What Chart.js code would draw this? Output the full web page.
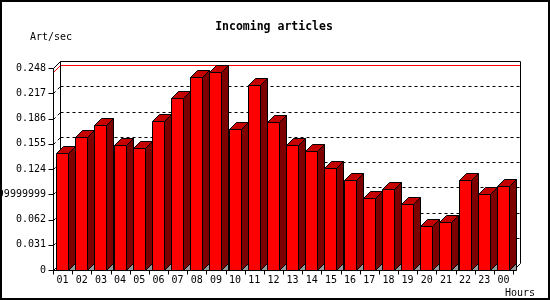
<!DOCTYPE html>
<html>
<head>
<meta charset="utf-8">
<script src="https://cdn.jsdelivr.net/npm/chart.js@4/dist/chart.umd.min.js"></script>
<style>
  html, body { margin: 0; padding: 0; background: #fff; }
  #chart { display: block; }
</style>
</head>
<body>
<canvas id="chart" width="550" height="300"></canvas>
<script>
// --- datos del gráfico ---
const hours = ['01', '02', '03', '04', '05', '06', '07', '08', '09', '10', '11', '12',
               '13', '14', '15', '16', '17', '18', '19', '20', '21', '22', '23', '00'];
const artPerSec = [0.144, 0.163, 0.178, 0.154, 0.150, 0.183, 0.211, 0.237, 0.2435, 0.1735, 0.227, 0.182,
                   0.153, 0.146, 0.125, 0.111, 0.089, 0.099, 0.081, 0.054, 0.059, 0.111, 0.093, 0.103];
const yTickValues = [0, 0.031, 0.062, 0.093, 0.124, 0.155, 0.186, 0.217, 0.248];
const yTickLabels = ['0', '0.031', '0.062', '0.09299999999999999', '0.124', '0.155', '0.186', '0.217', '0.248'];

const FONT = '"DejaVu Sans Mono", "Liberation Mono", monospace';
const D = 7; // profundidad 3D

function poly(ctx, pts, fill) {
    ctx.beginPath();
    ctx.moveTo(pts[0][0], pts[0][1]);
    for (let i = 1; i < pts.length; i++) ctx.lineTo(pts[i][0], pts[i][1]);
    ctx.closePath();
    if (fill) { ctx.fillStyle = fill; ctx.fill(); }
    ctx.stroke();
}

function line(ctx, x1, y1, x2, y2) {
    ctx.beginPath();
    ctx.moveTo(x1, y1);
    ctx.lineTo(x2, y2);
    ctx.stroke();
}

// --- paredes, rejilla y línea del máximo ---
const walls = {
    id: 'walls',
    beforeDatasetsDraw(chart) {
        const ctx = chart.ctx;
        const y = chart.scales.y;
        const area = chart.chartArea;
        const L = Math.round(area.left) + 0.5;
        const R = Math.round(area.right) + 0.5;
        ctx.save();
        ctx.lineWidth = 1;

        // rejilla punteada en la pared del fondo
        ctx.strokeStyle = '#000';
        ctx.setLineDash([3, 3]);
        yTickValues.forEach(v => {
            if (v === 0 || v === yTickValues[yTickValues.length - 1]) return;
            const py = Math.round(y.getPixelForValue(v)) + 0.5;
            line(ctx, L + D, py - D, R + D, py - D);
            line(ctx, L, py, L + D, py - D);
        });
        ctx.setLineDash([]);

        // línea roja del máximo
        const maxY = Math.round(y.getPixelForValue(Math.max(...artPerSec))) + 0.5;
        ctx.strokeStyle = '#ff0000';
        line(ctx, L + D, maxY - D, R + D, maxY - D);
        line(ctx, L, maxY, L + D, maxY - D);

        // pared del fondo
        const top = Math.round(y.getPixelForValue(yTickValues[yTickValues.length - 1])) + 0.5;
        const bot = Math.round(y.getPixelForValue(0)) + 0.5;
        ctx.strokeStyle = '#000';
        line(ctx, L + D, top - D, L + D, bot - D);
        line(ctx, L + D, top - D, R + D, top - D);
        line(ctx, R + D, top - D, R + D, bot - D);
        line(ctx, L, top, L + D, top - D);
        line(ctx, L, bot, L + D, bot - D);
        ctx.restore();
    },
    afterDatasetsDraw(chart) {
        const ctx = chart.ctx;
        const y = chart.scales.y;
        const x = chart.scales.x;
        const area = chart.chartArea;
        const L = Math.round(area.left) + 0.5;
        const R = Math.round(area.right) + 0.5;
        const top = Math.round(y.getPixelForValue(yTickValues[yTickValues.length - 1])) + 0.5;
        const bot = Math.round(y.getPixelForValue(0)) + 0.5;
        ctx.save();
        ctx.strokeStyle = '#000';
        ctx.lineWidth = 1;
        // ejes frontales
        line(ctx, L, top, L, bot);
        line(ctx, L, bot, R, bot);
        line(ctx, R, bot, R + D, bot - D);
        // marcas del eje y
        yTickValues.forEach(v => {
            const py = Math.round(y.getPixelForValue(v)) + 0.5;
            line(ctx, L - 5, py, L, py);
        });
        // marcas del eje x entre categorías
        for (let i = 0; i <= hours.length; i++) {
            const px = Math.round(area.left + i * (area.right - area.left) / hours.length) + 0.5;
            line(ctx, px, bot, px, bot + 4);
        }
        ctx.restore();
    },
    afterDraw(chart) {
        const ctx = chart.ctx;
        ctx.save();
        ctx.fillStyle = '#000';
        ctx.textBaseline = 'middle';
        ctx.font = 'bold 11.5px ' + FONT;
        ctx.textAlign = 'center';
        ctx.fillText('Incoming articles', 274, 27);
        ctx.font = '10px ' + FONT;
        ctx.textAlign = 'left';
        ctx.fillText('Art/sec', 30, 37);
        ctx.fillText('Hours', 505, 293);
        // marco
        ctx.strokeStyle = '#000';
        ctx.lineWidth = 2;
        ctx.strokeRect(1, 1, 548, 298);
        ctx.restore();
    }
};

// --- barras 3D a partir de los elementos de Chart.js ---
const bar3d = {
    id: 'bar3d',
    afterDatasetsDraw(chart) {
        const ctx = chart.ctx;
        const meta = chart.getDatasetMeta(0);
        ctx.save();
        ctx.strokeStyle = '#000';
        ctx.lineWidth = 1;
        meta.data.forEach(bar => {
            const p = bar.getProps(['x', 'y', 'base', 'width'], true);
            const l = Math.round(p.x - p.width / 2) + 0.5;
            const r = l + 12;
            const t = Math.round(p.y) + 0.5;
            const b = Math.round(p.base) + 0.5;
            poly(ctx, [[r, b], [r + D, b - D], [r + D, b]], '#999999');
            poly(ctx, [[r, t], [r + D, t - D], [r + D, b - D], [r, b]], '#7c0000');
            poly(ctx, [[l, t], [l + D, t - D], [r + D, t - D], [r, t]], '#c40000');
            poly(ctx, [[l, t], [r, t], [r, b], [l, b]], '#ff0000');
        });
        ctx.restore();
    }
};

new Chart(document.getElementById('chart'), {
    type: 'bar',
    data: {
        labels: hours,
        datasets: [{
            data: artPerSec,
            backgroundColor: 'rgba(0,0,0,0)',
            borderWidth: 0,
            barThickness: 13
        }]
    },
    options: {
        responsive: false,
        animation: false,
        events: [],
        layout: { padding: { top: 68, right: 37, bottom: 0, left: 0 } },
        plugins: { legend: { display: false }, tooltip: { enabled: false }, title: { display: false } },
        scales: {
            x: {
                grid: { display: false, drawTicks: false },
                border: { display: false },
                ticks: { color: '#000', font: { family: FONT, size: 10 }, padding: 4, maxRotation: 0, autoSkip: false },
                afterFit(scale) { scale.height = 30; }
            },
            y: {
                min: 0,
                max: 0.248,
                grid: { display: false, drawTicks: false },
                border: { display: false },
                afterBuildTicks(scale) { scale.ticks = yTickValues.map(v => ({ value: v })); },
                ticks: {
                    color: '#000',
                    font: { family: FONT, size: 10 },
                    padding: 7,
                    autoSkip: false,
                    callback: (val, i) => yTickLabels[i]
                },
                afterFit(scale) { scale.width = 53; }
            }
        }
    },
    plugins: [walls, bar3d]
});
</script>
</body>
</html>
